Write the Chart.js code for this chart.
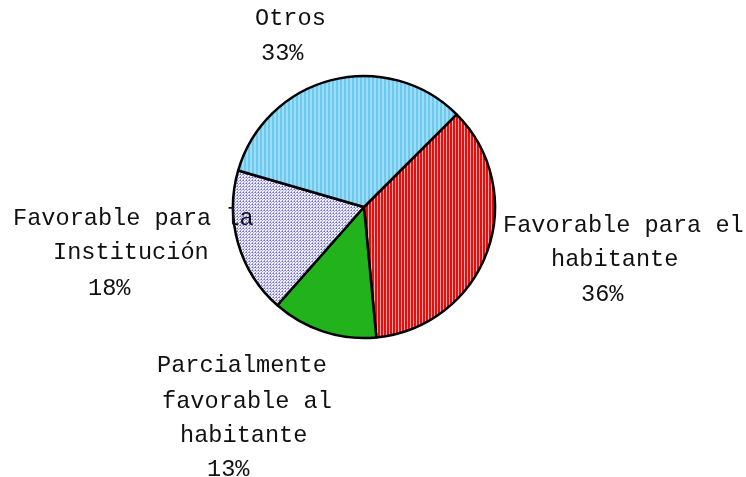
<!DOCTYPE html>
<html>
<head>
<meta charset="utf-8">
<script src="https://cdn.jsdelivr.net/npm/chart.js@4/dist/chart.umd.min.js"></script>
<style>
  html, body { margin: 0; padding: 0; background: #fff; }
  #wrap { width: 746px; height: 477px; }
</style>
</head>
<body>
<div id="wrap"><canvas id="pieChart" width="746" height="477"></canvas></div>
<script>
// data
const categories = [
    ['Favorable para el', 'habitante'],
    ['Parcialmente', 'favorable al', 'habitante'],
    ['Favorable para la', 'Institución'],
    ['Otros']
];
const values = [36, 13, 18, 33];

// where each label's lines sit (left x, middle y), one entry per category
const labelLayout = [
    [[503, 226], [551, 260], [581, 295]],
    [[157, 366], [162, 402], [180, 436], [207, 470]],
    [[13, 219], [53, 253], [88, 289]],
    [[255, 19], [261, 54]]
];

// small tiles for the hatched fills
function makePattern(w, h, paint) {
    const tile = document.createElement('canvas');
    tile.width = w;
    tile.height = h;
    paint(tile.getContext('2d'));
    return tile.getContext('2d').createPattern(tile, 'repeat');
}

const redStripes = makePattern(3, 1, c => {
    c.fillStyle = '#e30f0f'; c.fillRect(0, 0, 2, 1);
    c.fillStyle = '#f6a3a3'; c.fillRect(2, 0, 1, 1);
});
const blueStripes = makePattern(4, 1, c => {
    c.fillStyle = '#6ccaf0'; c.fillRect(0, 0, 2, 1);
    c.fillStyle = '#9ddcf6'; c.fillRect(2, 0, 2, 1);
});
const lavenderDots = makePattern(3, 3, c => {
    c.fillStyle = '#f0f0ff'; c.fillRect(0, 0, 3, 3);
    c.fillStyle = '#6a6adc'; c.fillRect(0, 0, 1, 1);
    c.fillStyle = '#9c9cea'; c.fillRect(1, 1, 1, 1); c.fillRect(2, 0, 1, 1); c.fillRect(0, 2, 1, 1);
});

const sliceLabels = {
    id: 'sliceLabels',
    afterDraw(chart) {
        const ctx = chart.ctx;
        const total = values.reduce((a, b) => a + b, 0);
        ctx.save();
        ctx.font = '23.6px "Liberation Mono", "Courier New", monospace';
        ctx.fillStyle = '#111';
        ctx.textAlign = 'left';
        ctx.textBaseline = 'middle';
        categories.forEach((lines, i) => {
            const pct = Math.round(values[i] / total * 100) + '%';
            const all = lines.concat([pct]);
            all.forEach((txt, j) => {
                const pos = labelLayout[i][j];
                ctx.fillText(txt, pos[0], pos[1]);
            });
        });
        ctx.restore();
    }
};

new Chart(document.getElementById('pieChart'), {
    type: 'pie',
    data: {
        labels: categories.map(l => l.join(' ')),
        datasets: [{
            data: values,
            backgroundColor: [redStripes, '#22b21b', lavenderDots, blueStripes],
            borderColor: '#000',
            borderWidth: 2.5,
            radius: 131
        }]
    },
    options: {
        responsive: false,
        animation: false,
        rotation: 45,
        events: [],
        layout: { padding: { left: 100, right: 118, top: 70, bottom: 133 } },
        plugins: {
            legend: { display: false },
            tooltip: { enabled: false }
        }
    },
    plugins: [sliceLabels]
});
</script>
</body>
</html>
